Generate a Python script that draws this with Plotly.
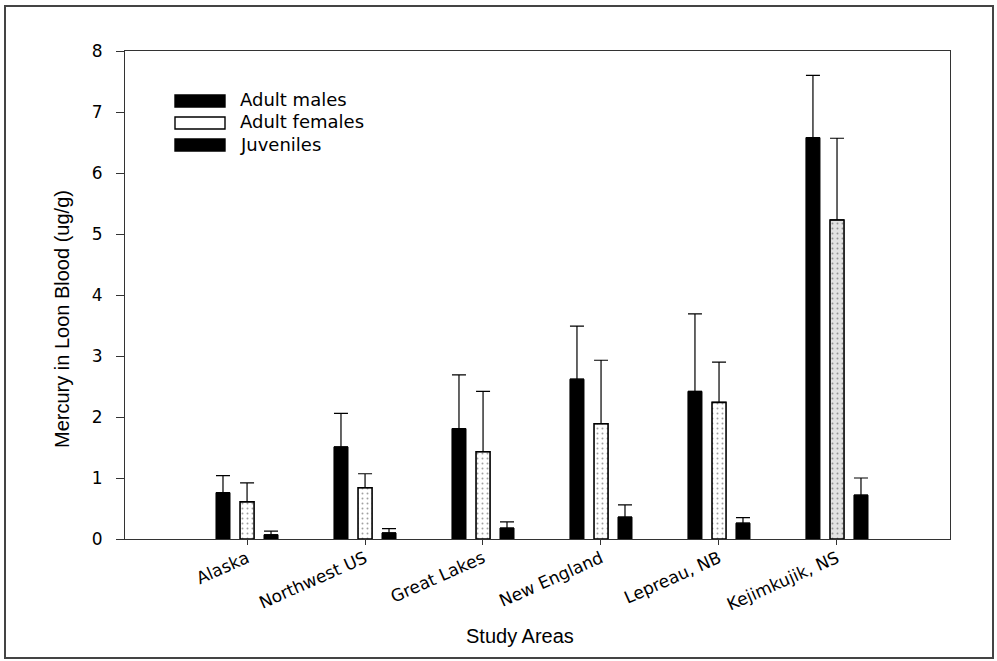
import plotly.graph_objects as go

# Mean blood mercury (ug/g) and upper error (SD) by study area
areas = ["Alaska", "Northwest US", "Great Lakes", "New England", "Lepreau, NB", "Kejimkujik, NS"]
males_mean = [0.76, 1.51, 1.81, 2.62, 2.42, 6.58]
males_err = [0.28, 0.55, 0.88, 0.87, 1.27, 1.02]
females_mean = [0.61, 0.84, 1.43, 1.89, 2.24, 5.23]
females_err = [0.31, 0.23, 0.99, 1.04, 0.66, 1.34]
juv_mean = [0.07, 0.10, 0.18, 0.36, 0.26, 0.72]
juv_err = [0.06, 0.07, 0.10, 0.20, 0.09, 0.28]
series_names = ["Adult males", "Adult females", "Juveniles"]
y_ticks = [0, 1, 2, 3, 4, 5, 6, 7, 8]

W, H = 997, 661
L, R, T, B = 125, 47, 51, 122
PW, PH = W - L - R, H - T - B

FONT = "Liberation Sans, Arial, sans-serif"
WIDE = "DejaVu Sans, Verdana, sans-serif"
xs = list(range(len(areas)))
bar_w = 0.119


def px_x(p):
    return (p - L) / PW


def px_y(p):
    return (H - B - p) / PH


def err(vals):
    return dict(type="data", array=vals, arrayminus=[0] * len(vals), symmetric=False,
                color="black", thickness=1.2, width=7)


fig = go.Figure()
fig.add_trace(go.Bar(
    x=xs, y=males_mean, name=series_names[0], width=bar_w, offset=-0.263,
    marker=dict(color="black", line=dict(color="black", width=1)),
    error_y=err(males_err), showlegend=False))
fig.add_trace(go.Bar(
    x=xs, y=females_mean, name=series_names[1], width=bar_w, offset=-0.059,
    marker=dict(color=["white"] * 5 + ["#e2e2e2"], line=dict(color="black", width=1.6),
                pattern=dict(shape=".", fgcolor="#9a9a9a", size=5, solidity=0.12)),
    error_y=err(females_err), showlegend=False))
fig.add_trace(go.Bar(
    x=xs, y=juv_mean, name=series_names[2], width=bar_w, offset=0.144,
    marker=dict(color="black", line=dict(color="black", width=1)),
    error_y=err(juv_err), showlegend=False))

# Hand-drawn legend block in the upper left of the plot
shapes = []
annotations = []
legend_rows = [101, 123, 145]
fills = ["black", "white", "black"]
for name, yc, fc in zip(series_names, legend_rows, fills):
    shapes.append(dict(type="rect", xref="paper", yref="paper",
                       x0=px_x(175), x1=px_x(225), y0=px_y(yc + 6), y1=px_y(yc - 6),
                       fillcolor=fc, line=dict(color="black", width=1.4)))
    annotations.append(dict(text=name, xref="paper", yref="paper", x=px_x(238), y=px_y(yc - 1),
                            xanchor="left", yanchor="middle", showarrow=False,
                            font=dict(family=WIDE, size=18, color="black")))

# Outer frame around the whole figure
shapes.append(dict(type="rect", xref="paper", yref="paper",
                   x0=px_x(5), x1=px_x(993), y0=px_y(658), y1=px_y(6),
                   line=dict(color="#444", width=2), fillcolor="rgba(0,0,0,0)"))

# Axis titles
annotations.append(dict(text="Study Areas", xref="paper", yref="paper", x=px_x(520), y=px_y(636),
                        xanchor="center", yanchor="middle", showarrow=False,
                        font=dict(family=FONT, size=20, color="black")))
annotations.append(dict(text="Mercury in Loon Blood (ug/g)", xref="paper", yref="paper",
                        x=px_x(62), y=px_y(319), xanchor="center", yanchor="middle",
                        textangle=-90, showarrow=False,
                        font=dict(family=FONT, size=20, color="black")))

fig.update_layout(
    width=W, height=H,
    margin=dict(l=L, r=R, t=T, b=B, pad=0),
    plot_bgcolor="white", paper_bgcolor="white",
    font=dict(family=FONT, color="black"),
    shapes=shapes, annotations=annotations,
    xaxis=dict(range=[-1.034, 5.958], tickmode="array", tickvals=xs, ticktext=areas,
               tickangle=-24, ticks="outside", ticklen=5, tickcolor="#333", tickwidth=1,
               showline=True, linecolor="#333", linewidth=1.2, mirror=True,
               showgrid=False, zeroline=False, ticklabelstandoff=-3,
               tickfont=dict(family=WIDE, size=17, color="black")),
    yaxis=dict(range=[0, 8], tickmode="array", tickvals=y_ticks,
               ticks="outside", ticklen=8, tickcolor="#333", tickwidth=1,
               showline=True, linecolor="#333", linewidth=1.2, mirror=True,
               showgrid=False, zeroline=False, ticklabelstandoff=10,
               tickfont=dict(family=WIDE, size=17, color="black")),
)

fig.write_html("out.html")
